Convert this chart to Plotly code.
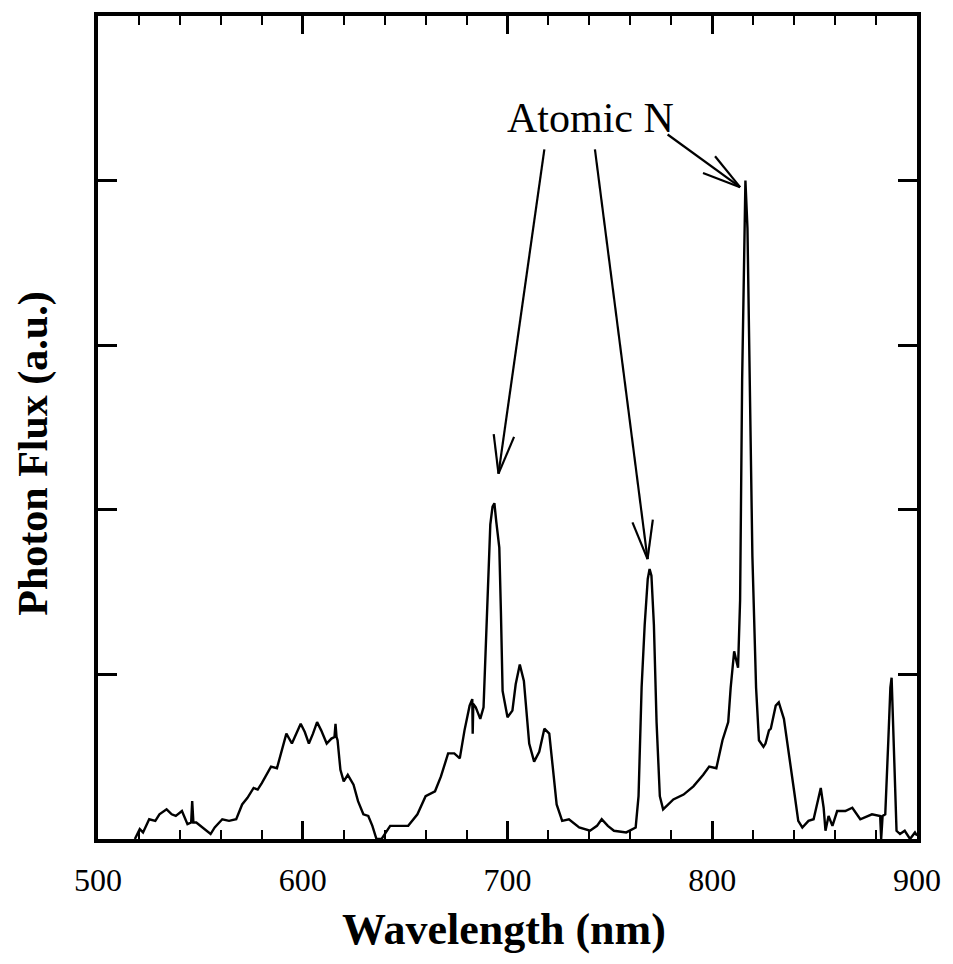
import math
import plotly.graph_objects as go

# ---------------- data ----------------
wavelength_nm = [
    518, 520.4, 522, 525, 528, 530, 533.5, 536, 538, 541, 543.7, 545.5, 546, 546.6, 548,
    551, 555, 557, 560.7, 564, 567.5, 570.4, 573, 576, 578, 580, 584.5, 587.4, 590, 592,
    594.7, 597, 599, 601, 603, 605, 607, 609, 611.7, 614, 615.5, 616, 616.5, 617, 618.4,
    620, 622, 624.8, 627, 629.6, 632, 634, 636, 638.5, 640, 642.7, 646.6, 651.5, 656, 660,
    664.6, 667.5, 671, 674, 676.7, 679, 681.5, 682.8, 683, 683.3, 684.5, 686.7, 688.3, 689.3, 690.3,
    691.6, 692.7, 693.6, 694.5, 696, 696.8, 697.6, 700, 702.4, 704, 706, 708, 710.6, 713, 715.5,
    718, 720.4, 722, 724, 726.7, 730, 735, 740.3, 743.7, 746, 749, 752, 758, 762.6, 764,
    765.5, 767, 768.5, 769.4, 770.3, 771.5, 772.8, 774.4, 776, 781, 786, 790.8, 795.6, 798.5, 802,
    805, 807.8, 809, 810.7, 812.6, 813.6, 814.6, 815.7, 816.2, 817.2, 818.4, 819.6, 821.4, 822.8, 825,
    826, 827.7, 828.6, 831, 832.5, 835, 837.4, 840, 842, 844, 847, 849.5, 853, 854.4, 855.3,
    856.8, 858.7, 861, 865, 868.4, 872.3, 875.7, 878, 882, 882.5, 883.2, 884.5, 886, 887, 887.6,
    888.5, 890, 891.7, 894, 896.6, 899, 900,
]
photon_flux = [
    0.0, 0.06, 0.04, 0.12, 0.11, 0.15, 0.18, 0.15, 0.14, 0.17, 0.09, 0.10, 0.23, 0.10, 0.10,
    0.07, 0.03, 0.07, 0.12, 0.11, 0.12, 0.21, 0.25, 0.31, 0.30, 0.34, 0.44, 0.43, 0.55, 0.64,
    0.58, 0.65, 0.70, 0.65, 0.58, 0.64, 0.71, 0.66, 0.58, 0.61, 0.62, 0.70, 0.62, 0.60, 0.42,
    0.35, 0.39, 0.33, 0.23, 0.15, 0.14, 0.08, 0.0, 0.0, 0.03, 0.08, 0.08, 0.08, 0.15, 0.26,
    0.29, 0.38, 0.52, 0.52, 0.49, 0.66, 0.81, 0.85, 0.64, 0.82, 0.80, 0.73, 0.80, 1.15, 1.57,
    1.91, 2.02, 2.04, 1.93, 1.77, 1.37, 0.90, 0.74, 0.78, 0.94, 1.06, 0.96, 0.58, 0.47, 0.53,
    0.67, 0.64, 0.45, 0.21, 0.11, 0.12, 0.07, 0.05, 0.08, 0.12, 0.08, 0.05, 0.04, 0.07, 0.26,
    0.92, 1.30, 1.58, 1.64, 1.60, 1.30, 0.71, 0.26, 0.18, 0.24, 0.27, 0.32, 0.39, 0.44, 0.43,
    0.60, 0.71, 0.92, 1.14, 1.04, 1.45, 2.79, 3.71, 4.00, 3.71, 2.79, 1.72, 0.92, 0.60, 0.56,
    0.58, 0.66, 0.67, 0.81, 0.83, 0.73, 0.53, 0.29, 0.11, 0.07, 0.11, 0.12, 0.31, 0.19, 0.05,
    0.14, 0.08, 0.17, 0.17, 0.19, 0.12, 0.14, 0.15, 0.14, 0.0, 0.14, 0.15, 0.60, 0.92, 0.98,
    0.60, 0.05, 0.03, 0.05, 0.0, 0.04, 0.02,
]

x_ticks = [500, 600, 700, 800, 900]
x_minor_step = 20
y_ticks = [1, 2, 3, 4]

# annotation "Atomic N" with its arrows (tail -> head, data coords)
label_text = "Atomic N"
label_pos = (740.5, 4.38)
arrow_tails = [(718.0, 4.19), (742.7, 4.19), (778.2, 4.28)]
arrow_heads = [(695.6, 2.22), (768.4, 1.70), (813.6, 3.96)]

# ---------------- layout geometry ----------------
W, H = 953, 964
ML, MR, MT, MB = 98, 30, 13, 125
X0, X1 = 500, 900
Y0, Y1 = 0, 5
PW = W - ML - MR
PH = H - MT - MB


def to_px(x, y):
    return ML + (x - X0) / (X1 - X0) * PW, MT + PH - (y - Y0) / (Y1 - Y0) * PH


def to_data(px, py):
    return X0 + (px - ML) / PW * (X1 - X0), Y0 + (MT + PH - py) / PH * (Y1 - Y0)


fig = go.Figure()
fig.add_trace(go.Scatter(
    x=wavelength_nm, y=photon_flux, mode="lines",
    line=dict(color="black", width=2.4), showlegend=False, hoverinfo="skip",
))

shapes = []
HEAD_LEN = 40
HEAD_ANG = math.radians(15)
for (tx, ty), (hx, hy) in zip(arrow_tails, arrow_heads):
    shapes.append(dict(type="line", xref="x", yref="y", x0=tx, y0=ty, x1=hx, y1=hy,
                       line=dict(color="black", width=2.2)))
    tpx, tpy = to_px(tx, ty)
    hpx, hpy = to_px(hx, hy)
    ang = math.atan2(tpy - hpy, tpx - hpx)
    for s in (-1, 1):
        a = ang + s * HEAD_ANG
        ex, ey = to_data(hpx + HEAD_LEN * math.cos(a), hpy + HEAD_LEN * math.sin(a))
        shapes.append(dict(type="line", xref="x", yref="y", x0=hx, y0=hy, x1=ex, y1=ey,
                           line=dict(color="black", width=2.2)))

annotations = [
    dict(x=label_pos[0], y=label_pos[1], xref="x", yref="y", text=label_text,
         showarrow=False, font=dict(family="Liberation Serif", size=42, color="black")),
    dict(x=0.496, y=-0.110, xref="paper", yref="paper", text="<b>Wavelength (nm)</b>",
         showarrow=False, xanchor="center", yanchor="middle",
         font=dict(family="Liberation Serif", size=44, color="black")),
    dict(x=-0.079, y=0.4685, xref="paper", yref="paper", text="<b>Photon Flux (a.u.)</b>",
         showarrow=False, textangle=-90, xanchor="center", yanchor="middle",
         font=dict(family="Liberation Serif", size=42, color="black")),
]

fig.update_layout(
    width=W, height=H,
    margin=dict(l=ML, r=MR, t=MT, b=MB, pad=0),
    paper_bgcolor="white", plot_bgcolor="white",
    shapes=shapes, annotations=annotations,
    font=dict(family="Liberation Serif", color="black"),
    xaxis=dict(
        range=[X0, X1], tickmode="array", tickvals=x_ticks,
        ticktext=[str(v) for v in x_ticks],
        ticks="inside", ticklen=18, tickwidth=3, tickcolor="black",
        minor=dict(dtick=x_minor_step, ticks="inside", ticklen=9, tickwidth=2,
                   tickcolor="black", showgrid=False),
        showline=True, linewidth=3.5, linecolor="black", mirror="ticks",
        showgrid=False, zeroline=False, ticklabelstandoff=10,
        tickfont=dict(family="Liberation Serif", size=32, color="black"),
    ),
    yaxis=dict(
        range=[Y0, Y1], tickmode="array", tickvals=y_ticks, showticklabels=False,
        ticks="inside", ticklen=19, tickwidth=3, tickcolor="black",
        showline=True, linewidth=3.5, linecolor="black", mirror="ticks",
        showgrid=False, zeroline=False,
    ),
)

fig.write_html("out.html")
